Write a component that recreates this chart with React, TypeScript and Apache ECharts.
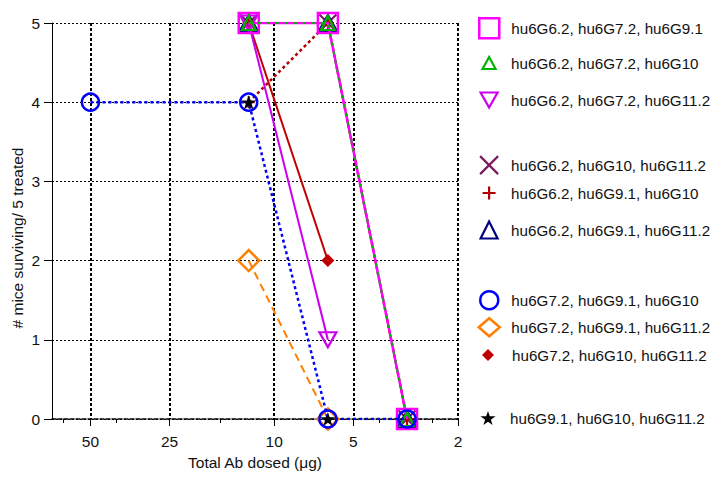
import React, { useEffect, useRef } from 'react';
import * as echarts from 'echarts';

// ---------- data ----------
const doses = [50, 12.5, 6.25, 3.125];

const seriesNames = [
  'hu6G6.2, hu6G7.2, hu6G9.1',
  'hu6G6.2, hu6G7.2, hu6G10',
  'hu6G6.2, hu6G7.2, hu6G11.2',
  'hu6G6.2, hu6G10, hu6G11.2',
  'hu6G6.2, hu6G9.1, hu6G10',
  'hu6G6.2, hu6G9.1, hu6G11.2',
  'hu6G7.2, hu6G9.1, hu6G10',
  'hu6G7.2, hu6G9.1, hu6G11.2',
  'hu6G7.2, hu6G10, hu6G11.2',
  'hu6G9.1, hu6G10, hu6G11.2',
];

// survivors (of 5) at each dose in `doses`; null = not tested
const survG672_G91 = [null, 5, 5, 0];
const survG672_G10 = [null, 5, 5, 0];
const survG672_G112 = [null, 5, 1, null];
const survG62_G10_G112 = [null, 5, 5, 0];
const survG62_G91_G10 = [null, 4, 5, 0];
const survG62_G91_G112 = [null, 5, 5, 0];
const survG72_G91_G10 = [4, 4, 0, 0];
const survG72_G91_G112 = [null, 2, 0, null];
const survG72_G10_G112 = [null, 5, 2, null];
const survG91_G10_G112 = [null, 4, 0, null];

const survival = [
  survG672_G91, survG672_G10, survG672_G112, survG62_G10_G112, survG62_G91_G10,
  survG62_G91_G112, survG72_G91_G10, survG72_G91_G112, survG72_G10_G112, survG91_G10_G112,
];

const xTickValues = [50, 25, 10, 5, 2];
const xMinorTickValues = [63.5, 40, 16, 4, 2.5];
const xAxisTitle = 'Total Ab dosed (μg)';
const yAxisTitle = '# mice surviving/ 5 treated';

// ---------- styles ----------
const FONT = '"Liberation Sans", Arial, sans-serif';
const NONE = 'rgba(0,0,0,0)';
const P_X = 'path://M0,0L10,10M10,0L0,10';
const P_PLUS = 'path://M5,0L5,10M0,5L10,5';
const P_INV = 'path://M0,0L10,0L5,10Z';
const P_STAR = 'path://M50,0L61.23,34.55L97.55,34.55L68.17,55.9L79.39,90.45L50,69.1L20.61,90.45L31.83,55.9L2.45,34.55L38.77,34.55Z';

type St = {
  symbol: string; size: number[]; fill: string; stroke: string; bw: number;
  line: { color: string; width: number; type: any; opacity?: number };
  leg: number[]; cy: number; z: number;
};

const styles: St[] = [
  { symbol: 'rect', size: [20, 20], fill: NONE, stroke: '#FF00FF', bw: 2.5, line: { color: '#FF00FF', width: 2.5, type: 'solid' }, leg: [20, 20], cy: 27, z: 5 },
  { symbol: 'triangle', size: [14, 14], fill: NONE, stroke: '#00B400', bw: 2.2, line: { color: '#00B400', width: 2, type: [3, 6] }, leg: [13, 12], cy: 63, z: 6 },
  { symbol: P_INV, size: [17, 15], fill: NONE, stroke: '#CC00EE', bw: 2.2, line: { color: '#CC00EE', width: 2, type: 'solid' }, leg: [17, 15], cy: 100, z: 4 },
  { symbol: P_X, size: [17, 17], fill: NONE, stroke: '#7B1C5E', bw: 2.2, line: { color: '#7B1C5E', width: 1.2, type: 'solid' }, leg: [18, 18], cy: 165, z: 2 },
  { symbol: P_PLUS, size: [12, 12], fill: NONE, stroke: '#B00000', bw: 2.2, line: { color: '#B00000', width: 2.5, type: [3, 3] }, leg: [13, 13], cy: 193, z: 3 },
  { symbol: 'triangle', size: [18, 16], fill: NONE, stroke: '#000080', bw: 2.2, line: { color: '#000080', width: 1.2, type: 'solid' }, leg: [17, 17], cy: 230, z: 2 },
  { symbol: 'circle', size: [17, 17], fill: NONE, stroke: '#0000FF', bw: 2.5, line: { color: '#0000FF', width: 2.5, type: [3, 3] }, leg: [18, 18], cy: 300, z: 7 },
  { symbol: 'diamond', size: [21, 21], fill: NONE, stroke: '#FF8000', bw: 2.5, line: { color: '#FF8000', width: 2, type: [8, 5] }, leg: [21, 18], cy: 327, z: 6 },
  { symbol: 'diamond', size: [13, 13], fill: '#C00000', stroke: '#C00000', bw: 0, line: { color: '#C00000', width: 2, type: 'solid' }, leg: [12, 12], cy: 355, z: 3 },
  { symbol: P_STAR, size: [15, 14], fill: '#000000', stroke: '#000000', bw: 0, line: { color: '#000000', width: 0, type: 'solid', opacity: 0 }, leg: [15, 14], cy: 418, z: 8 },
];

const LEG_CX = 488;
const TEXT_X = 510;

export default function App() {
  const ref = useRef<HTMLDivElement>(null);

  useEffect(() => {
    document.body.style.margin = '0';
    if (!ref.current) return;
    const chart = echarts.init(ref.current, undefined, { renderer: 'svg' });

    const series = seriesNames.map((name, i) => {
      const st = styles[i];
      const data = doses
        .map((d, j) => (survival[i][j] == null ? null : [d, survival[i][j]]))
        .filter((p) => p !== null);
      return {
        name,
        type: 'line',
        z: st.z,
        data,
        symbol: st.symbol,
        symbolSize: st.size,
        symbolKeepAspect: false,
        showSymbol: true,
        itemStyle: { color: st.fill, borderColor: st.stroke, borderWidth: st.bw },
        lineStyle: { color: st.line.color, width: st.line.width, type: st.line.type, opacity: st.line.opacity ?? 1 },
        emphasis: { disabled: true },
        silent: true,
      };
    });

    const legends = seriesNames.map((name, i) => {
      const st = styles[i];
      const [w, h] = st.leg;
      const icon = st.symbol;
      return {
        data: [{ name, icon }],
        left: LEG_CX - w / 2,
        top: st.cy - 10,
        orient: 'vertical',
        padding: 0,
        itemGap: 0,
        itemWidth: w,
        itemHeight: h,
        symbolKeepAspect: false,
        selectedMode: false,
        itemStyle: { color: st.fill, borderColor: st.stroke, borderWidth: st.bw },
        lineStyle: { width: 0 },
        textStyle: {
          fontSize: 15.2,
          fontFamily: FONT,
          color: '#111',
          lineHeight: 20,
          padding: [0, 0, 0, TEXT_X - (LEG_CX + w / 2 + 5) + (i === 8 ? 2 : 0)],
        },
      };
    });

    chart.setOption({
      animation: false,
      backgroundColor: '#fff',
      textStyle: { fontFamily: FONT },
      grid: { left: 52, top: 23, width: 406, height: 396, containLabel: false },
      legend: legends,
      xAxis: [
        {
          type: 'log',
          logBase: 10,
          min: 2,
          max: 70,
          inverse: true,
          name: xAxisTitle,
          nameLocation: 'middle',
          nameGap: 35,
          nameTextStyle: { fontSize: 15.5, color: '#111', fontFamily: FONT },
          axisLine: { show: true, onZero: false, lineStyle: { color: '#000', width: 1.5, type: [4, 2] } },
          axisTick: { show: true, customValues: xTickValues, length: 7, lineStyle: { color: '#000', width: 1 } },
          axisLabel: { customValues: xTickValues, margin: 14, fontSize: 15.5, color: '#111', fontFamily: FONT },
          splitLine: { show: true, lineStyle: { color: '#000', width: 2, type: [3, 2] } },
          minorTick: { show: false },
          minorSplitLine: { show: false },
        },
        {
          type: 'log',
          logBase: 10,
          min: 2,
          max: 70,
          inverse: true,
          position: 'bottom',
          axisLine: { show: false },
          axisTick: { show: true, customValues: xMinorTickValues, length: 4, lineStyle: { color: '#000', width: 1 } },
          axisLabel: { show: false },
          splitLine: { show: false },
        },
      ],
      yAxis: {
        type: 'value',
        min: 0,
        max: 5,
        interval: 1,
        axisLine: { show: true, onZero: false, lineStyle: { color: '#000', width: 1 } },
        axisTick: { show: true, length: 8, lineStyle: { color: '#000', width: 1 } },
        axisLabel: { margin: 12, fontSize: 15.5, color: '#111', fontFamily: FONT },
        splitLine: { show: true, lineStyle: { color: '#000', width: 1, type: [2, 2] } },
      },
      graphic: [
        {
          type: 'text',
          x: 17,
          y: 238,
          rotation: Math.PI / 2,
          style: {
            text: yAxisTitle,
            fontSize: 15.5,
            fontFamily: FONT,
            fill: '#111',
            align: 'center',
            verticalAlign: 'middle',
          },
        },
      ],
      series,
    });

    return () => chart.dispose();
  }, []);

  return (
    <div
      ref={ref}
      style={{ position: 'fixed', left: 0, top: 0, width: 723, height: 479, background: '#fff' }}
    />
  );
}
